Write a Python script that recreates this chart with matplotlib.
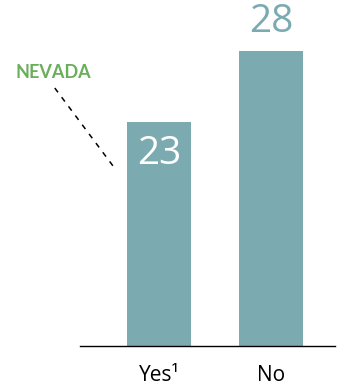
import matplotlib
matplotlib.use("Agg")
import matplotlib.pyplot as plt

categories = ["Yes\u00b9", "No"]
values = [23, 28]
label_text = "NEVADA"

bar_color = "#7babb1"
green = "#6aae5b"

plt.rcParams['font.family'] = ['Open Sans', 'DejaVu Sans']

fig = plt.figure(figsize=(3.45, 3.92), dpi=100)
ax = fig.add_axes([80 / 345, 46 / 392, 255 / 345, 346 / 392])

x = list(range(len(categories)))
ax.bar(x, values, width=0.571, color=bar_color)
ax.set_xlim(-0.705, 1.571)
ax.set_ylim(7.23, 31.6)

# first value sits inside its bar, second one above
ax.annotate(str(values[0]), (x[0], values[0]), xytext=(0, -23), textcoords="offset points",
            ha="center", va="center", fontsize=28, color="white")
ax.annotate(str(values[1]), (x[1], values[1]), xytext=(0, 21), textcoords="offset points",
            ha="center", va="center", fontsize=28, color=bar_color)

for s in ["top", "right", "left"]:
    ax.spines[s].set_visible(False)
ax.spines["bottom"].set_linewidth(1.0)
ax.set_yticks([])
ax.set_xticks(x)
ax.set_xticklabels(categories, fontsize=15)
ax.tick_params(axis="x", length=0, pad=13.5)

fig.text(53 / 345, 1 - 72 / 392, label_text, ha="center", va="center",
         fontsize=13, fontweight="bold", color=green, family="Lato")
ax.plot([-0.93, -0.40], [25.4, 19.8], linestyle=(0, (3.5, 4)), color="black",
        linewidth=1.1, clip_on=False)

fig.savefig("out.png", dpi=100)
